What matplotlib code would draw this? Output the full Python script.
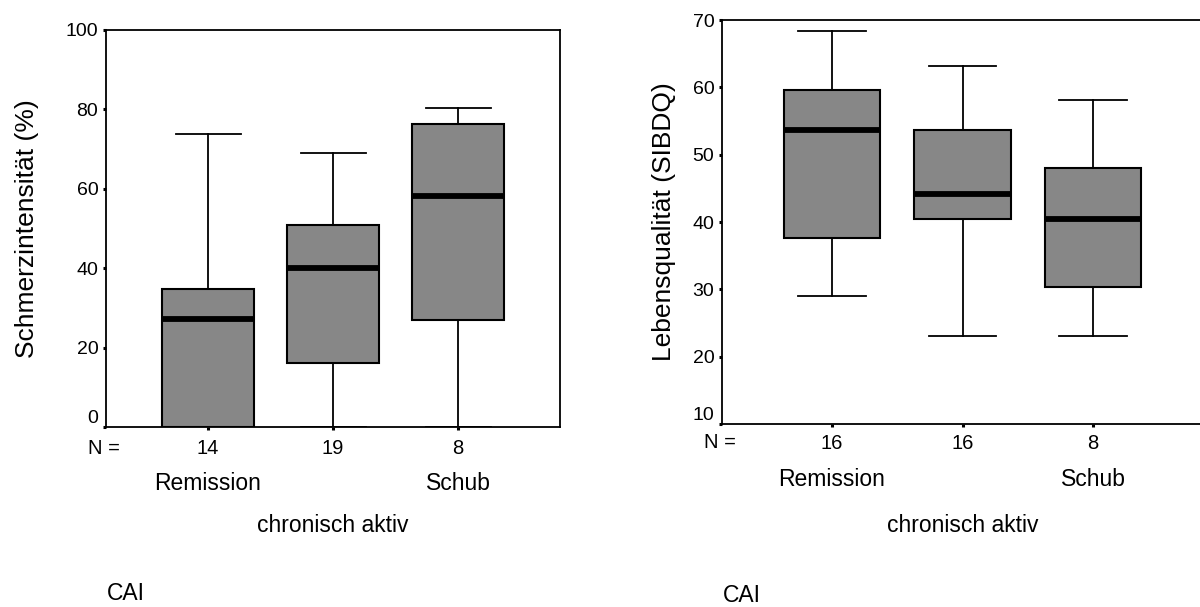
import matplotlib
matplotlib.use("Agg")
import matplotlib.pyplot as plt

plt.rcParams['font.family'] = ['Liberation Sans', 'DejaVu Sans']

# Kategorien und Fallzahlen
positions = [1, 2, 3]
categories = ['Remission', 'chronisch aktiv', 'Schub']
n_schmerz = ['14', '19', '8']
n_lebensq = ['16', '16', '8']

# Schmerzintensität (%) : unterer Whisker, Q1, Median, Q3, oberer Whisker
schmerz_low = [0, 0, 0]
schmerz_q1 = [0, 16, 27]
schmerz_med = [27.3, 40, 58.3]
schmerz_q3 = [34.7, 50.9, 76.2]
schmerz_high = [73.7, 69.1, 80.3]

# Lebensqualität (SIBDQ)
leben_low = [29, 23, 23]
leben_q1 = [37.6, 40.4, 30.4]
leben_med = [53.7, 44.1, 40.4]
leben_q3 = [59.6, 53.6, 48]
leben_high = [68.3, 63.2, 58.1]

fig = plt.figure(figsize=(12, 6.07), dpi=100)

PX = 0.72  # 1 Pixel in Punkten bei 100 dpi


def draw_panel(ax, low, q1, med, q3, high, nlab, ylabel, yticks, ylim, xlim,
               offs, npad, lpad):
    stats = []
    for i in range(len(positions)):
        stats.append({'whislo': low[i], 'q1': q1[i], 'med': med[i],
                      'q3': q3[i], 'whishi': high[i], 'fliers': []})
    ax.bxp(stats, positions=positions, widths=0.74, patch_artist=True,
           showfliers=False,
           boxprops=dict(facecolor='#878787', edgecolor='black', linewidth=1.5),
           medianprops=dict(color='black', linewidth=4.2, solid_capstyle='butt'),
           whiskerprops=dict(color='black', linewidth=1.3),
           capprops=dict(color='black', linewidth=1.3),
           capwidths=0.52)
    ax.set_xlim(*xlim)
    ax.set_ylim(*ylim)
    ax.set_yticks(yticks)
    ax.set_xticks(positions)
    ax.set_xticklabels(nlab, fontsize=14.5)
    ax.tick_params(axis='both', direction='out', length=2.5, width=2.2, color='black')
    ax.tick_params(axis='y', labelsize=14, pad=3)
    ax.tick_params(axis='x', pad=npad)
    labels = ax.get_yticklabels()
    labels[0].set_verticalalignment('bottom')
    for s in ax.spines.values():
        s.set_linewidth(1.3)
    ax.set_ylabel(ylabel, fontsize=19, labelpad=lpad)

    tr = ax.get_xaxis_transform()
    ax.annotate('N =', xy=(xlim[0], 0), xycoords=tr, xytext=(-2 * PX, -offs[0] * PX),
                textcoords='offset points', ha='center', va='center', fontsize=14.5)
    ax.annotate(categories[0], xy=(positions[0], 0), xycoords=tr,
                xytext=(0, -offs[1] * PX), textcoords='offset points',
                ha='center', va='center', fontsize=16.5)
    ax.annotate(categories[2], xy=(positions[2], 0), xycoords=tr,
                xytext=(0, -offs[1] * PX), textcoords='offset points',
                ha='center', va='center', fontsize=16.5)
    ax.annotate(categories[1], xy=(positions[1], 0), xycoords=tr,
                xytext=(0, -offs[2] * PX), textcoords='offset points',
                ha='center', va='center', fontsize=16.5)
    ax.annotate('CAI', xy=(0, 0), xycoords='axes fraction',
                xytext=(1 * PX, -offs[3] * PX), textcoords='offset points',
                ha='left', va='center', fontsize=16.5)


ax1 = fig.add_axes([106 / 1200, 1 - 427 / 607, 454 / 1200, 397 / 607])
draw_panel(ax1, schmerz_low, schmerz_q1, schmerz_med, schmerz_q3, schmerz_high,
           n_schmerz, 'Schmerzintensität (%)', [0, 20, 40, 60, 80, 100], (0, 100),
           (0.184, 3.816), (21, 56, 98, 166), 6, 19)

ax2 = fig.add_axes([722 / 1200, 1 - 424 / 607, 481 / 1200, 404 / 607])
draw_panel(ax2, leben_low, leben_q1, leben_med, leben_q3, leben_high,
           n_lebensq, 'Lebensqualität (SIBDQ)', [10, 20, 30, 40, 50, 60, 70], (10, 70),
           (0.157, 3.843), (19, 56, 101, 171), 4.5, 12)

fig.savefig('out.png', dpi=100)
